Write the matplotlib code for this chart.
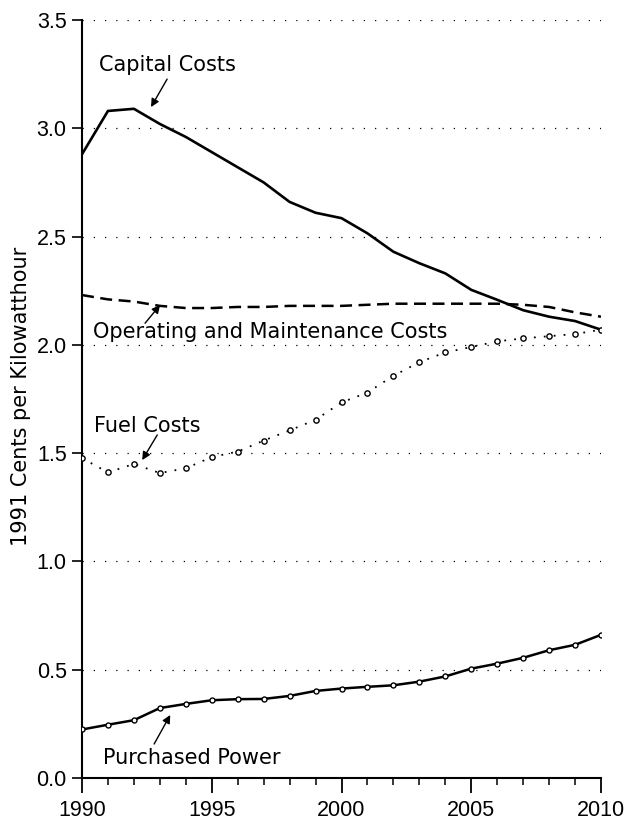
import matplotlib
matplotlib.use("Agg")
import matplotlib.pyplot as plt
from matplotlib.ticker import MultipleLocator

years = list(range(1990, 2011))
capital_costs = [2.88, 3.08, 3.09, 3.02, 2.96, 2.89, 2.82, 2.75, 2.66, 2.61, 2.585,
                 2.515, 2.43, 2.377, 2.33, 2.254, 2.208, 2.16, 2.13, 2.11, 2.07]
om_costs = [2.23, 2.21, 2.20, 2.18, 2.17, 2.17, 2.175, 2.175, 2.18, 2.18, 2.18,
            2.185, 2.19, 2.19, 2.19, 2.19, 2.19, 2.185, 2.175, 2.15, 2.13]
fuel_costs = [1.477, 1.411, 1.45, 1.408, 1.43, 1.482, 1.507, 1.558, 1.605, 1.654, 1.734,
              1.78, 1.857, 1.92, 1.965, 1.99, 2.016, 2.03, 2.04, 2.05, 2.07]
purchased_power = [0.224, 0.246, 0.267, 0.323, 0.342, 0.359, 0.364, 0.365, 0.379, 0.402, 0.413,
                   0.421, 0.428, 0.445, 0.469, 0.505, 0.528, 0.555, 0.59, 0.615, 0.661]

x_ticks = [1990, 1995, 2000, 2005, 2010]
y_ticks = [0.0, 0.5, 1.0, 1.5, 2.0, 2.5, 3.0, 3.5]
y_label = "1991 Cents per Kilowatthour"

fig = plt.figure(figsize=(6.28, 8.24), dpi=100)
ax = fig.add_axes([82/628, 46/824, 519/628, 758/824])

# grid
for v in y_ticks[1:]:
    ax.axhline(v, color="black", lw=0.9, linestyle=(0, (1, 8)), zorder=1)

ax.plot(years, capital_costs, color="black", lw=1.9, solid_joinstyle="round", zorder=3)
ax.plot(years, om_costs, color="black", lw=1.8, linestyle=(0, (4.8, 2.6)), zorder=3)
ax.plot(years, fuel_costs, color="black", lw=1.3, linestyle=(0, (1, 4.5)),
        marker="o", ms=3.8, mfc="white", mec="black", mew=1.0, zorder=3)
ax.plot(years, purchased_power, color="black", lw=1.8,
        marker="o", ms=3.6, mfc="white", mec="black", mew=1.0, zorder=3)

ax.set_xlim(1990, 2010)
ax.set_ylim(0, 3.5)
ax.set_xticks(x_ticks)
ax.set_xticklabels([str(t) for t in x_ticks])
ax.xaxis.set_minor_locator(MultipleLocator(1))
ax.set_yticks(y_ticks)
ax.set_yticklabels([f"{t:.1f}" for t in y_ticks])

for s in ["top", "right"]:
    ax.spines[s].set_visible(False)
for s in ["left", "bottom"]:
    ax.spines[s].set_linewidth(1.5)
    ax.spines[s].set_color("black")

ax.tick_params(axis="x", which="major", direction="out", length=11, width=1.3, pad=5,
               labelsize=15.5)
ax.tick_params(axis="x", which="minor", direction="out", length=5, width=1.1)
ax.tick_params(axis="y", which="major", direction="out", length=7, width=1.2, pad=4,
               labelsize=15.5)
for lab in ax.get_xticklabels() + ax.get_yticklabels():
    lab.set_fontfamily("Liberation Sans")

afont = dict(family="DejaVu Sans", size=15)
arrow = dict(arrowstyle="-|>", color="black", lw=1.0, mutation_scale=12,
             shrinkA=0, shrinkB=0)

ax.text(1990.66, 3.264, "Capital Costs", ha="left", va="baseline", **afont)
ax.annotate("", xy=(1992.66, 3.098), xytext=(1993.28, 3.227), arrowprops=arrow)

ax.text(1990.42, 2.031, "Operating and Maintenance Costs", ha="left", va="baseline", **afont)
ax.annotate("", xy=(1993.01, 2.184), xytext=(1992.43, 2.10), arrowprops=arrow)

ax.text(1990.46, 1.597, "Fuel Costs", ha="left", va="baseline", **afont)
ax.annotate("", xy=(1992.32, 1.468), xytext=(1992.9, 1.584), arrowprops=arrow)

ax.text(1990.81, 0.065, "Purchased Power", ha="left", va="baseline", **afont)
ax.annotate("", xy=(1993.40, 0.291), xytext=(1992.78, 0.157), arrowprops=arrow)

fig.text(21/628, (824-396)/824, y_label, rotation=90, ha="center", va="center",
         family="DejaVu Sans", fontsize=15)

fig.savefig("out.png", dpi=100)
